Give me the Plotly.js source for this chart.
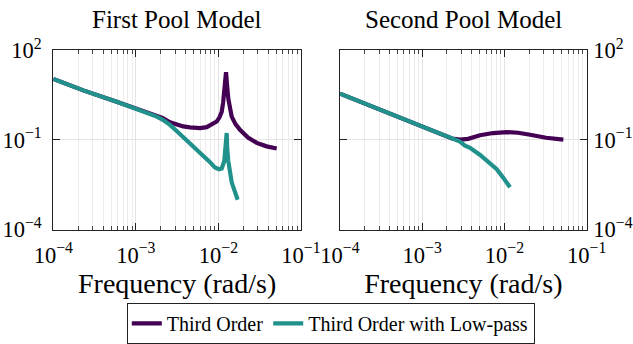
<!DOCTYPE html>
<html>
<head>
<meta charset="utf-8">
<script src="https://cdn.plot.ly/plotly-3.0.1.min.js"></script>
<style>html,body{margin:0;padding:0;background:#fff}#chart{width:633px;height:344px}</style>
</head>
<body>
<div id="chart"></div>
<script>
// ---- Data ----
const seriesNames = ["Third Order", "Third Order with Low-pass"];
const subplotTitles = ["First Pool Model", "Second Pool Model"];
const xAxisLabel = "Frequency (rad/s)";

// First pool, third order
const pool1ThirdX = [1e-4, 2.31e-4, 5.86e-4, 1.48e-3, 2.1e-3, 2.59e-3, 3.12e-3, 3.75e-3, 4.53e-3, 5.98e-3, 7.21e-3, 8.28e-3, 9.53e-3, 1.03e-2, 1.096e-2, 1.14e-2, 1.178e-2, 1.236e-2, 1.277e-2, 1.317e-2, 1.448e-2, 1.61e-2, 1.825e-2, 2.28e-2, 2.91e-2, 3.84e-2, 5.08e-2];
const pool1ThirdY = [11.07, 4.55, 1.89, 0.776, 0.55, 0.392, 0.324, 0.283, 0.264, 0.248, 0.268, 0.324, 0.413, 0.573, 0.883, 1.79, 4.03, 18.4, 6.03, 2.42, 0.604, 0.337, 0.218, 0.121, 0.0796, 0.061, 0.0516];

// First pool, third order with low-pass
const pool1LowX = [1e-4, 2.31e-4, 5.86e-4, 1.48e-3, 1.79e-3, 2.1e-3, 2.59e-3, 3.12e-3, 3.75e-3, 4.53e-3, 5.46e-3, 6.57e-3, 7.91e-3, 9.08e-3, 1.017e-2, 1.096e-2, 1.178e-2, 1.216e-2, 1.259e-2, 1.277e-2, 1.317e-2, 1.448e-2, 1.563e-2, 1.71e-2];
const pool1LowY = [11.07, 4.55, 1.89, 0.776, 0.604, 0.48, 0.319, 0.198, 0.126, 0.080, 0.0505, 0.029, 0.0181, 0.0119, 0.0105, 0.0111, 0.0198, 0.0545, 0.170, 0.0545, 0.0198, 0.00382, 0.00193, 0.000995];

// Second pool, third order
const pool2ThirdX = [1e-4, 2.21e-4, 5.62e-4, 9.4e-4, 1.43e-3, 1.89e-3, 2.30e-3, 2.88e-3, 3.61e-3, 5.05e-3, 7.27e-3, 1.064e-2, 1.462e-2, 2.05e-2, 3.2e-2, 5.2e-2];
const pool2ThirdY = [3.54, 1.46, 0.531, 0.312, 0.194, 0.141, 0.112, 0.102, 0.109, 0.143, 0.170, 0.183, 0.174, 0.149, 0.118, 0.102];

// Second pool, third order with low-pass
const pool2LowX = [1e-4, 2.21e-4, 5.62e-4, 9.4e-4, 1.43e-3, 1.89e-3, 2.30e-3, 2.88e-3, 3.31e-3, 3.81e-3, 5.05e-3, 8.05e-3, 9.6e-3, 1.167e-2];
const pool2LowY = [3.54, 1.46, 0.531, 0.312, 0.194, 0.137, 0.111, 0.088, 0.0648, 0.0545, 0.0313, 0.0105, 0.00558, 0.00261];

// ---- Styling ----
const colors = ["#440154", "#21918c"];
const FONT = "Liberation Serif";
const lw = 4.2;
const xRange = [-4, -1], yRange = [-4, 2];

const traces = [
  {x: pool1ThirdX, y: pool1ThirdY, xaxis: "x", yaxis: "y", name: seriesNames[0], mode: "lines",
   line: {color: colors[0], width: lw}, legendgroup: "a", showlegend: true},
  {x: pool1LowX, y: pool1LowY, xaxis: "x3", yaxis: "y3", name: seriesNames[1], mode: "lines",
   line: {color: colors[1], width: lw}, legendgroup: "b", showlegend: true},
  {x: pool2ThirdX, y: pool2ThirdY, xaxis: "x2", yaxis: "y2", name: seriesNames[0], mode: "lines",
   line: {color: colors[0], width: lw}, legendgroup: "a", showlegend: false},
  {x: pool2LowX, y: pool2LowY, xaxis: "x4", yaxis: "y4", name: seriesNames[1], mode: "lines",
   line: {color: colors[1], width: lw}, legendgroup: "b", showlegend: false}
];

// Label axes: grids, tick labels (pushed out by invisible outside ticks) and titles
function xLabels(domain, anchor) {
  return {
    type: "log", range: xRange, domain: domain, anchor: anchor, side: "bottom",
    dtick: 1, exponentformat: "power", showexponent: "all",
    showline: false, zeroline: false,
    ticks: "outside", ticklen: 6, tickcolor: "rgba(0,0,0,0)",
    showgrid: true, gridcolor: "#e3e3e3", gridwidth: 1,
    minor: {dtick: "D1", showgrid: true, gridcolor: "#ececec", gridwidth: 1},
    tickfont: {family: FONT, size: 18, color: "#000"},
    title: {text: xAxisLabel, font: {family: FONT, size: 28, color: "#000"}, standoff: 6}
  };
}
function yLabels(domain, anchor, side, len) {
  return {
    type: "log", range: yRange, domain: domain, anchor: anchor, side: side,
    tick0: 2, dtick: 3, exponentformat: "power", showexponent: "all",
    showline: false, zeroline: false,
    ticks: "outside", ticklen: len, tickcolor: "rgba(0,0,0,0)",
    showgrid: true, gridcolor: "#e3e3e3", gridwidth: 1,
    tickfont: {family: FONT, size: 18, color: "#000"}
  };
}
// Frame axes: overlaid, draw the box and the inside ticks
function xFrame(over, anchor) {
  return {
    type: "log", range: xRange, overlaying: over, anchor: anchor, side: "bottom",
    dtick: 1, showticklabels: false, showgrid: false, zeroline: false,
    showline: true, linecolor: "#222", linewidth: 1, mirror: "ticks",
    ticks: "inside", ticklen: 7, tickcolor: "#222", tickwidth: 1,
    minor: {dtick: "D1", ticks: "inside", ticklen: 4, tickcolor: "#444", showgrid: false}
  };
}
function yFrame(over, anchor, side) {
  return {
    type: "log", range: yRange, overlaying: over, anchor: anchor, side: side,
    tick0: 2, dtick: 3, showticklabels: false, showgrid: false, zeroline: false,
    showline: true, linecolor: "#222", linewidth: 1, mirror: "ticks",
    ticks: "inside", ticklen: 7, tickcolor: "#222", tickwidth: 1
  };
}

const yDom = [0.3227, 0.8517];
const layout = {
  width: 633, height: 344,
  margin: {l: 0, r: 0, t: 0, b: 0},
  paper_bgcolor: "#fff", plot_bgcolor: "#fff",
  font: {family: FONT, color: "#000"},
  xaxis: xLabels([0.0842, 0.4755], "y"),
  yaxis: yLabels(yDom, "x", "left", 7),
  xaxis2: xLabels([0.5371, 0.9269], "y2"),
  yaxis2: yLabels(yDom, "x2", "right", 2),
  xaxis3: xFrame("x", "y3"),
  yaxis3: yFrame("y", "x3", "left"),
  xaxis4: xFrame("x2", "y4"),
  yaxis4: yFrame("y2", "x4", "right"),
  showlegend: true,
  legend: {
    orientation: "h", x: 0.5226, xanchor: "center", y: 0.1067, yanchor: "top",
    bordercolor: "#222", borderwidth: 1, bgcolor: "#fff",
    font: {family: FONT, size: 20, color: "#000"}
  },
  annotations: [
    {text: subplotTitles[0], xref: "paper", yref: "paper", x: 0.2797, y: 0.942, xanchor: "center", yanchor: "middle",
     showarrow: false, font: {family: FONT, size: 25, color: "#000"}},
    {text: subplotTitles[1], xref: "paper", yref: "paper", x: 0.7318, y: 0.942, xanchor: "center", yanchor: "middle",
     showarrow: false, font: {family: FONT, size: 25, color: "#000"}}
  ]
};

Plotly.newPlot("chart", traces, layout, {staticPlot: true, displayModeBar: false});
</script>
</body>
</html>
